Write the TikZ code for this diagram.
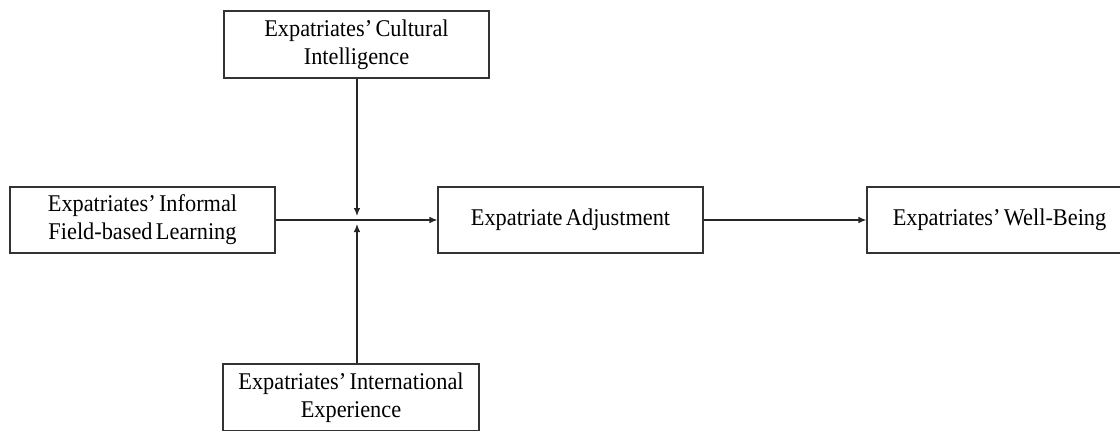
\documentclass[tikz,border=0pt]{standalone}
\usepackage{fontspec}
\setmainfont[WordSpace=0.6,FakeStretch=0.93]{Liberation Serif}
\usetikzlibrary{arrows.meta}
\begin{document}
\begin{tikzpicture}[x=0.75pt,y=-0.75pt,
  box/.style={draw=black!80,line width=0.9pt,minimum width=265*0.75pt,minimum height=67*0.75pt,
    inner sep=0pt,align=center,font=\fontsize{18}{21}\selectfont},
  arr/.style={draw=black!85,line width=0.9pt,-{Latex[length=6pt,width=5pt]}}]
\useasboundingbox (0,0) rectangle (1120,431);
\clip (0,0) rectangle (1120,431);
\node[box] (cq) at (356.5,44.5) {Expatriates’ Cultural\\Intelligence};
\node[box,minimum height=66*0.75pt] (learn) at (142.5,220) {Expatriates’ Informal\\Field-based Learning};
\node[box,minimum height=66*0.75pt] (adj) at (570.5,220) {Expatriate Adjustment};
\node[box,minimum height=66*0.75pt] (wb) at (999.5,220) {Expatriates’ Well-Being};
\node[box,minimum width=256*0.75pt] (ie) at (351,397.5) {Expatriates’ International\\Experience};
\coordinate (jt) at (357,216);
\coordinate (jb) at (357,224);
\draw[arr] (learn.east) -- (adj.west);
\draw[arr] (adj.east) -- (wb.west);
\draw[arr] (cq.south -| jt) -- (jt);
\draw[arr] (ie.north -| jb) -- (jb);
\end{tikzpicture}
\end{document}
